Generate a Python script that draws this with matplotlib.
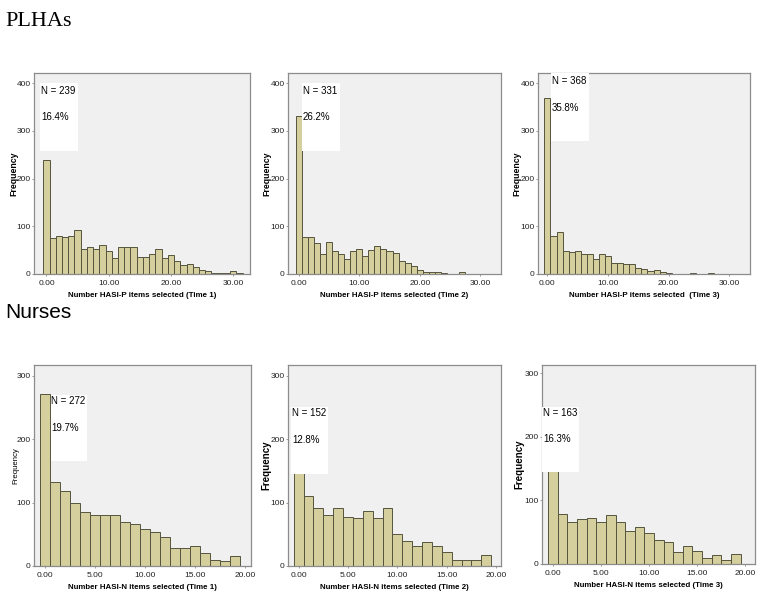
import matplotlib
matplotlib.use("Agg")
import matplotlib.pyplot as plt
from matplotlib.patches import Rectangle
import numpy as np

plt.rcParams['font.family'] = ['Liberation Sans', 'DejaVu Sans']

# ---------------- data ----------------
plha_t1 = [239, 76, 80, 77, 79, 92, 52, 56, 52, 60, 49, 34, 57, 56, 56, 36,
           35, 41, 52, 33, 39, 27, 18, 20, 14, 8, 6, 3, 3, 3, 6, 3]
plha_t2 = [331, 77, 78, 64, 42, 68, 48, 42, 32, 48, 53, 37, 50, 59, 53, 48,
           43, 27, 23, 17, 8, 4, 4, 4, 2, 1, 0, 5]
plha_t3 = [368, 80, 89, 49, 47, 49, 41, 41, 32, 42, 38, 24, 24, 20, 20, 13,
           11, 6, 9, 5, 3, 0, 1, 1, 3, 0, 1, 2]
nurse_t1 = [272, 133, 119, 100, 85, 80, 81, 81, 69, 66, 58, 53, 45, 28, 29,
            31, 21, 10, 8, 15]
nurse_t2 = [152, 111, 92, 81, 91, 77, 75, 86, 75, 92, 50, 40, 31, 38, 31,
            22, 9, 9, 10, 17]
nurse_t3 = [163, 79, 66, 71, 72, 66, 77, 66, 52, 58, 48, 37, 34, 19, 29,
            21, 10, 14, 7, 16]

n_labels = ["N = 239", "N = 331", "N = 368", "N = 272", "N = 152", "N = 163"]
pct_labels = ["16.4%", "26.2%", "35.8%", "19.7%", "12.8%", "16.3%"]
xlabels = ["Number HASI-P items selected (Time 1)",
           "Number HASI-P items selected (Time 2)",
           "Number HASI-P items selected  (Time 3)",
           "Number HASI-N items selected (Time 1)",
           "Number HASI-N items selected (Time 2)",
           "Number HASI-N items selected (Time 3)"]
top_xticks = [0, 10, 20, 30]
top_yticks = [0, 100, 200, 300, 400]
bot_xticks = [0, 5, 10, 15, 20]
bot_yticks = [0, 100, 200, 300]

series = [plha_t1, plha_t2, plha_t3, nurse_t1, nurse_t2, nurse_t3]

# ---------------- layout ----------------
W, H = 762, 599
fig = plt.figure(figsize=(W / 100, H / 100), dpi=100)

# (left, right, top, bottom) in pixels
boxes = [(34, 250, 73, 274), (288, 501, 73, 274), (538, 750, 73, 274),
         (34, 251, 365, 566), (288, 501, 365, 566), (542, 755, 365, 564)]
xlims = [(-2.0, 32.7), (-1.75, 33.4), (-1.55, 33.4),
         (-1.1, 20.55), (-1.07, 20.5), (-1.15, 21.0)]
ylims = [(0, 421), (0, 421), (0, 421), (0, 317), (0, 317), (0, 313)]
# white label box: (x0, x1, y0, y1) and text positions (x, yN, yPct)
wboxes = [(-1.1, 5.0, 258, 400), (0.6, 6.8, 258, 400), (0.6, 6.9, 278, 430),
          (0.55, 4.2, 165, 270), (-0.77, 2.94, 145, 250), (-1.2, 2.65, 145, 247)]
tpos = [(-0.9, 384, 329), (0.65, 383, 328), (0.7, 405, 348),
        (0.6, 260, 217), (-0.67, 241, 199), (-1.04, 238, 196)]
# y-label style per panel: (fontsize, weight, right-edge offset px from axis)
ylab_style = [(6.3, 'bold', -16), (6.3, 'bold', -17), (6.3, 'bold', -17),
              (5.6, 'normal', -15), (7.0, 'bold', -17), (7.0, 'bold', -18)]

bar_color = '#D5CF9D'
edge_color = '#55543F'
bg_color = '#F0F0F0'
spine_color = '#8C8C8C'

fig.text(5 / W, 1 - 22 / H, "PLHAs", family=['Liberation Serif', 'DejaVu Serif'],
         fontsize=16, va='center', ha='left')
fig.text(5 / W, 1 - 312 / H, "Nurses", fontsize=15, va='center', ha='left')

for i, vals in enumerate(series):
    l, r, t, b = boxes[i]
    ax = fig.add_axes([l / W, 1 - b / H, (r - l) / W, (b - t) / H])
    ax.set_facecolor(bg_color)
    x = np.arange(len(vals))
    ax.bar(x, vals, width=1.0, color=bar_color, edgecolor=edge_color,
           linewidth=0.7, zorder=2)
    ax.set_xlim(*xlims[i])
    ax.set_ylim(*ylims[i])
    top = i < 3
    ax.set_xticks(top_xticks if top else bot_xticks)
    ax.set_yticks(top_yticks if top else bot_yticks)
    ax.set_xticklabels([f"{v:.2f}" for v in (top_xticks if top else bot_xticks)])
    ax.tick_params(axis='both', labelsize=6, length=1.6, width=0.6,
                   color=spine_color, labelcolor='#222222')
    ax.tick_params(axis='y', pad=0.8)
    ax.tick_params(axis='x', pad=2.5)
    for s in ax.spines.values():
        s.set_color(spine_color)
        s.set_linewidth(0.9)
    ax.set_xlabel(xlabels[i], fontsize=5.7, fontweight='bold', labelpad=3.5)
    fs, fw, off = ylab_style[i]
    ax.set_ylabel("Frequency", fontsize=fs, fontweight=fw)
    ax.yaxis.set_label_coords(off / (r - l), 0.5)

    x0, x1, y0, y1 = wboxes[i]
    ax.add_patch(Rectangle((x0, y0), x1 - x0, y1 - y0, facecolor='white',
                           edgecolor='none', zorder=1 if i in (0, 3) else 3,
                           clip_on=True))
    tx, ty1, ty2 = tpos[i]
    ax.text(tx, ty1, n_labels[i], fontsize=7, va='center', ha='left', zorder=4)
    ax.text(tx, ty2, pct_labels[i], fontsize=7, va='center', ha='left', zorder=4)

fig.savefig("out.png", dpi=100)
